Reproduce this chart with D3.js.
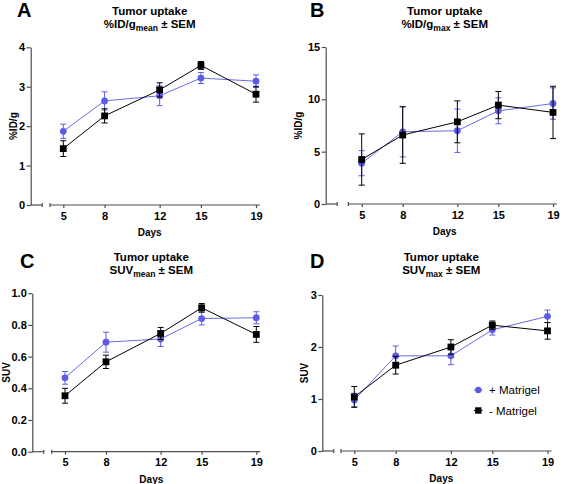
<!DOCTYPE html>
<html>
<head>
<meta charset="utf-8">
<script src="https://cdn.jsdelivr.net/npm/d3@7"></script>
<style>
  html, body { margin: 0; padding: 0; background: #fff; }
  svg { display: block; font-family: "Liberation Sans", Arial, sans-serif; }
</style>
</head>
<body>
<svg id="chart" width="567" height="484"></svg>
<script>
// ---------------- DATA ----------------
const days = [5, 8, 12, 15, 19];
const seriesNames = ["+ Matrigel", "- Matrigel"];

// Panel A: %ID/g mean
const idMeanPlus = [1.87, 2.64, 2.77, 3.22, 3.14];
const idMeanPlusSem = [0.18, 0.23, 0.25, 0.14, 0.16];
const idMeanMinus = [1.43, 2.26, 2.92, 3.54, 2.81];
const idMeanMinusSem = [0.20, 0.18, 0.18, 0.10, 0.20];

// Panel B: %ID/g max
const idMaxPlus = [3.9, 6.9, 7.0, 8.9, 9.6];
const idMaxPlusSem = [1.2, 2.4, 2.07, 1.24, 1.5];
const idMaxMinus = [4.25, 6.59, 7.85, 9.45, 8.75];
const idMaxMinusSem = [2.45, 2.7, 2.0, 1.3, 2.5];

// Panel C: SUV mean
const suvMeanPlus = [0.466, 0.691, 0.711, 0.840, 0.845];
const suvMeanPlusSem = [0.040, 0.063, 0.047, 0.040, 0.038];
const suvMeanMinus = [0.353, 0.567, 0.746, 0.908, 0.740];
const suvMeanMinusSem = [0.047, 0.042, 0.038, 0.027, 0.050];

// Panel D: SUV max
const suvMaxPlus = [0.98, 1.83, 1.83, 2.33, 2.59];
const suvMaxPlusSem = [0.13, 0.19, 0.17, 0.10, 0.12];
const suvMaxMinus = [1.04, 1.65, 2.00, 2.42, 2.31];
const suvMaxMinusSem = [0.20, 0.17, 0.14, 0.08, 0.16];

// Tick labels
const yTicksA = [0, 1, 2, 3, 4];
const yTicksB = [0, 5, 10, 15];
const yTicksC = [0, 0.2, 0.4, 0.6, 0.8, 1.0];
const yTicksD = [0, 1, 2, 3];

// ---------------- STYLE / LAYOUT ----------------
const blue = "#5c5ce8";
const blueLine = "#6b6be6";
const black = "#000000";
const axisColor = "#4d4d4d";

const panels = [
  { letter: "A", main: "%ID/g", sub: "mean", ylabel: "%ID/g",
    plus: idMeanPlus, plusSem: idMeanPlusSem, minus: idMeanMinus, minusSem: idMeanMinusSem,
    yMax: 4, yTicks: yTicksA, fmt: d3.format("d"),
    left: 30.7, bottom: 205, top: 47.3, x5: 63.3, x19: 256, ylabOff: 14,
    letterX: 17, letterY: 17, titleY: 15 },
  { letter: "B", main: "%ID/g", sub: "max", ylabel: "%ID/g",
    plus: idMaxPlus, plusSem: idMaxPlusSem, minus: idMaxMinus, minusSem: idMaxMinusSem,
    yMax: 15, yTicks: yTicksB, fmt: d3.format("d"),
    left: 325.7, bottom: 204, top: 47, x5: 361.7, x19: 553, ylabOff: 24,
    letterX: 310, letterY: 17, titleY: 15 },
  { letter: "C", main: "SUV", sub: "mean", ylabel: "SUV",
    plus: suvMeanPlus, plusSem: suvMeanPlusSem, minus: suvMeanMinus, minusSem: suvMeanMinusSem,
    yMax: 1.0, yTicks: yTicksC, fmt: d3.format(".1f"),
    left: 32.3, bottom: 451.7, top: 293.2, x5: 65, x19: 256.3, ylabOff: 22,
    letterX: 20, letterY: 268, titleY: 261 },
  { letter: "D", main: "SUV", sub: "max", ylabel: "SUV",
    plus: suvMaxPlus, plusSem: suvMaxPlusSem, minus: suvMaxMinus, minusSem: suvMaxMinusSem,
    yMax: 3, yTicks: yTicksD, fmt: d3.format("d"),
    left: 322.3, bottom: 451, top: 295, x5: 354.3, x19: 547.5, ylabOff: 14,
    letterX: 310, letterY: 268, titleY: 261, legend: true }
];

const svg = d3.select("#chart");

function drawPanel(p) {
  const g = svg.append("g");
  const x = d3.scaleLinear().domain([5, 19]).range([p.x5, p.x19]);
  const y = d3.scaleLinear().domain([0, p.yMax]).range([p.bottom, p.top]);

  // Panel letter
  g.append("text").attr("x", p.letterX).attr("y", p.letterY)
    .attr("font-size", 20).attr("font-weight", "bold").text(p.letter);

  // Title
  const cx = p.left + 119;
  g.append("text").attr("x", cx).attr("y", p.titleY)
    .attr("text-anchor", "middle").attr("font-size", 11.5).attr("font-weight", "bold")
    .text("Tumor uptake");
  const t2 = g.append("text").attr("x", cx).attr("y", p.titleY + 13)
    .attr("text-anchor", "middle").attr("font-size", 11.5).attr("font-weight", "bold");
  t2.append("tspan").text(p.main);
  t2.append("tspan").attr("font-size", 8.5).attr("dy", 3).text(p.sub);
  t2.append("tspan").attr("dy", -3).text(" ± SEM");

  // Y axis
  const yAxis = d3.axisLeft(y).tickValues(p.yTicks).tickFormat(p.fmt)
    .tickSize(4).tickSizeOuter(0).tickPadding(1.5);
  const ya = g.append("g").attr("transform", `translate(${p.left},0)`).call(yAxis);
  ya.select(".domain").attr("stroke", axisColor).attr("stroke-width", 1.2);
  ya.selectAll(".tick line").attr("stroke", axisColor).attr("stroke-width", 1.2);
  ya.selectAll(".tick text").attr("font-size", 11).attr("font-weight", "bold")
    .attr("fill", "#000").attr("font-family", "Liberation Sans, Arial, sans-serif");

  // X axis (with break)
  const xAxis = d3.axisBottom(x).tickValues(days).tickFormat(d3.format("d"))
    .tickSize(3).tickSizeOuter(0).tickPadding(4);
  const xa = g.append("g").attr("transform", `translate(0,${p.bottom})`).call(xAxis);
  xa.select(".domain").remove();
  xa.selectAll(".tick line").attr("stroke", axisColor).attr("stroke-width", 1.2);
  xa.selectAll(".tick text").attr("font-size", 11).attr("font-weight", "bold")
    .attr("fill", "#000").attr("font-family", "Liberation Sans, Arial, sans-serif");

  const seg1End = p.left + 11.5;
  const seg2Start = p.x5 - 13.3;
  const seg2End = p.x19 + 4;
  const axg = g.append("g").attr("stroke", axisColor).attr("stroke-width", 1.2);
  axg.append("line").attr("x1", p.left).attr("x2", seg1End).attr("y1", p.bottom).attr("y2", p.bottom);
  axg.append("line").attr("x1", seg1End).attr("x2", seg1End).attr("y1", p.bottom - 2).attr("y2", p.bottom + 2);
  axg.append("line").attr("x1", seg2Start).attr("x2", seg2End).attr("y1", p.bottom).attr("y2", p.bottom);
  axg.append("line").attr("x1", seg2Start).attr("x2", seg2Start).attr("y1", p.bottom - 2).attr("y2", p.bottom + 2);

  // Axis titles
  g.append("text").attr("x", cx).attr("y", p.bottom + 31)
    .attr("text-anchor", "middle").attr("font-size", 10).attr("font-weight", "bold").text("Days");
  const ymid = (p.top + p.bottom) / 2;
  const ylx = p.left - p.ylabOff;
  g.append("text").attr("transform", `translate(${ylx},${ymid}) rotate(-90)`)
    .attr("text-anchor", "middle").attr("font-size", 10).attr("font-weight", "bold").text(p.ylabel);

  // Series
  const series = [
    { vals: p.plus, sem: p.plusSem, color: blue, lineColor: blueLine, shape: "circle" },
    { vals: p.minus, sem: p.minusSem, color: black, lineColor: black, shape: "square" }
  ];
  const line = d3.line().x((d, i) => x(days[i])).y(d => y(d));
  series.forEach(s => {
    const sg = g.append("g");
    days.forEach((d, i) => {
      const hi = y(s.vals[i] + s.sem[i]), lo = y(s.vals[i] - s.sem[i]);
      const xx = x(d);
      sg.append("line").attr("x1", xx).attr("x2", xx).attr("y1", hi).attr("y2", lo)
        .attr("stroke", s.color).attr("stroke-width", 1);
      sg.append("line").attr("x1", xx - 3).attr("x2", xx + 3).attr("y1", hi).attr("y2", hi)
        .attr("stroke", s.color).attr("stroke-width", 1);
      sg.append("line").attr("x1", xx - 3).attr("x2", xx + 3).attr("y1", lo).attr("y2", lo)
        .attr("stroke", s.color).attr("stroke-width", 1);
    });
    sg.append("path").datum(s.vals).attr("d", line).attr("fill", "none")
      .attr("stroke", s.lineColor).attr("stroke-width", 1);
    days.forEach((d, i) => {
      if (s.shape === "circle") {
        sg.append("circle").attr("cx", x(d)).attr("cy", y(s.vals[i])).attr("r", 3.4).attr("fill", s.color);
      } else {
        sg.append("rect").attr("x", x(d) - 3.4).attr("y", y(s.vals[i]) - 3.4)
          .attr("width", 6.8).attr("height", 6.8).attr("fill", s.color);
      }
    });
  });

  if (p.legend) {
    const lg = g.append("g");
    const items = [
      { name: seriesNames[0], color: blue, shape: "circle", y: 390 },
      { name: seriesNames[1], color: black, shape: "square", y: 410.5 }
    ];
    items.forEach(it => {
      lg.append("line").attr("x1", 474).attr("x2", 482.5).attr("y1", it.y).attr("y2", it.y)
        .attr("stroke", it.color).attr("stroke-width", 1);
      if (it.shape === "circle") {
        lg.append("circle").attr("cx", 478.3).attr("cy", it.y).attr("r", 3.2).attr("fill", it.color);
      } else {
        lg.append("rect").attr("x", 478.3 - 3.2).attr("y", it.y - 3.2).attr("width", 6.4).attr("height", 6.4)
          .attr("fill", it.color);
      }
      lg.append("text").attr("x", 489).attr("y", it.y + 4).attr("font-size", 11.5).text(it.name);
    });
  }
}

panels.forEach(drawPanel);
</script>
</body>
</html>
